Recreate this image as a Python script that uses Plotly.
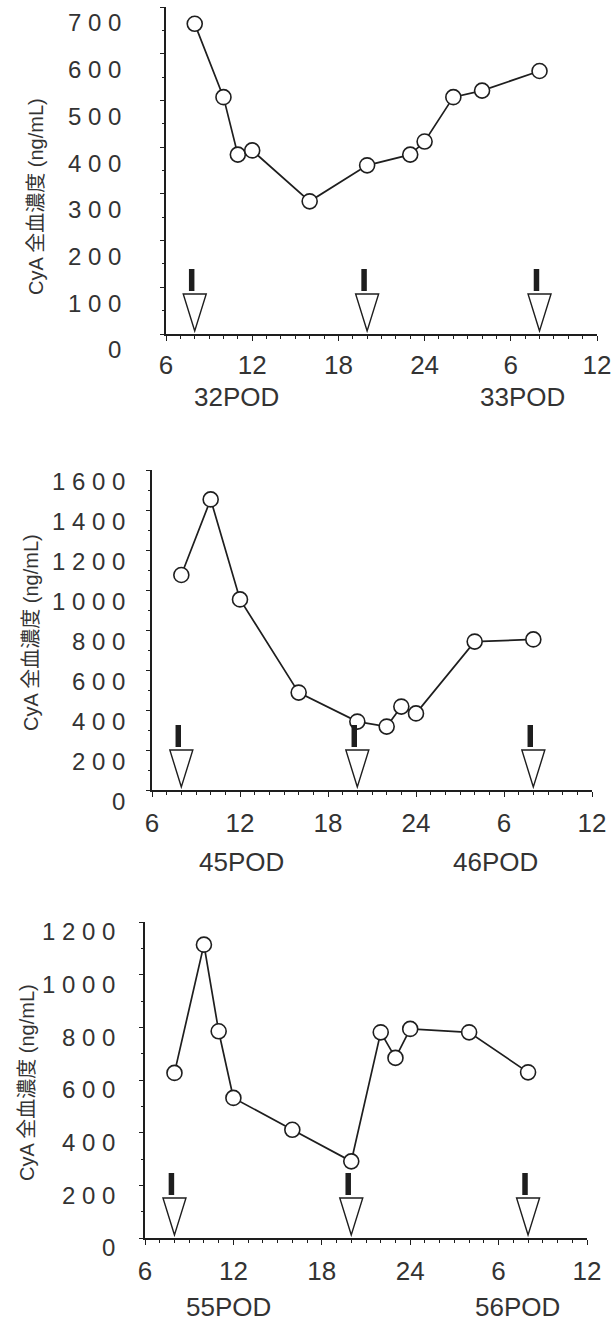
import plotly.graph_objects as go

# ---------------- data ----------------
# hours on a continuous clock (6 = 06:00 day 1, 30 = 06:00 next day, 36 = 12:00 next day)
p1_hours = [8, 10, 11, 12, 16, 20, 23, 24, 26, 28, 32]
p1_conc = [664, 507, 384, 393, 284, 361, 384, 412, 507, 521, 563]

p2_hours = [8, 10, 12, 16, 20, 22, 23, 24, 28, 32]
p2_conc = [1075, 1453, 953, 487, 342, 317, 417, 383, 742, 753]

p3_hours = [8, 10, 11, 12, 16, 20, 22, 23, 24, 28, 32]
p3_conc = [627, 1114, 785, 532, 411, 291, 781, 684, 794, 781, 629]

dose_hours = [8, 20, 32]

x_tick_vals = [6, 12, 18, 24, 30, 36]
x_tick_text = ["6", "12", "18", "24", "6", "12"]

p1_ymax = 700
p1_ytick_vals = [0, 100, 200, 300, 400, 500, 600, 700]
p2_ymax = 1600
p2_ytick_vals = [0, 200, 400, 600, 800, 1000, 1200, 1400, 1600]
p3_ymax = 1200
p3_ytick_vals = [0, 200, 400, 600, 800, 1000, 1200]

pod_labels = [("32POD", 10.9, "33POD", 30.8),
              ("45POD", 12.1, "46POD", 29.4),
              ("55POD", 11.7, "56POD", 31.3)]

y_title = "CyA 全血濃度 (ng/mL)"

# ---------------- layout helpers ----------------
W, H = 611, 1327
FONT = "Liberation Sans, Arial, Noto Sans CJK JP, sans-serif"
INK = "#1e1e1e"
TXT = "#333333"


def spaced(v):
    return " ".join(str(v))


panels = [
    dict(hours=p1_hours, conc=p1_conc, ymax=p1_ymax, yt=p1_ytick_vals,
         xpx=(166, 597), ypx=(7, 334), standoff=34, shift=16, title=(36, 197),
         podshift=-63, xstand=2),
    dict(hours=p2_hours, conc=p2_conc, ymax=p2_ymax, yt=p2_ytick_vals,
         xpx=(152, 592), ypx=(470, 790), standoff=16, shift=12, title=(31, 633),
         podshift=-72, xstand=4),
    dict(hours=p3_hours, conc=p3_conc, ymax=p3_ymax, yt=p3_ytick_vals,
         xpx=(145, 587), ypx=(922, 1238), standoff=19, shift=10, title=(27, 1083),
         podshift=-69, xstand=4),
]

fig = go.Figure()
shapes = []
annotations = []
layout_axes = {}

for i, p in enumerate(panels):
    n = "" if i == 0 else str(i + 1)
    xa, ya = "x" + n, "y" + n
    fig.add_trace(go.Scatter(
        x=p["hours"], y=p["conc"], xaxis=xa, yaxis=ya, mode="lines+markers",
        line=dict(color=INK, width=1.7),
        marker=dict(symbol="circle", size=15, color="white",
                    line=dict(color=INK, width=1.6)),
        cliponaxis=False, showlegend=False, hoverinfo="skip"))

    x0, x1 = p["xpx"]
    yt, yb = p["ypx"]
    layout_axes["xaxis" + n] = dict(
        domain=[x0 / W, x1 / W], range=[6, 36], anchor=ya, automargin=False,
        tickmode="array", tickvals=x_tick_vals, ticktext=x_tick_text,
        ticks="outside", ticklen=5, tickwidth=1.2, tickcolor=INK,
        minor=dict(tickmode="linear", tick0=6, dtick=1, ticks="outside",
                   ticklen=3, tickwidth=1, tickcolor=INK, showgrid=False),
        showline=True, linecolor=INK, linewidth=1.5,
        showgrid=False, zeroline=False, fixedrange=True,
        tickfont=dict(family=FONT, size=26, color=TXT),
        ticklabelstandoff=p["xstand"], ticklabeloverflow="allow")
    layout_axes["yaxis" + n] = dict(
        domain=[1 - yb / H, 1 - yt / H], range=[0, p["ymax"]], anchor=xa,
        automargin=False,
        tickmode="array", tickvals=p["yt"], ticktext=[spaced(v) for v in p["yt"]],
        ticks="outside", ticklen=4, tickwidth=1.2, tickcolor=INK,
        minor=dict(tickmode="linear", tick0=0, dtick=p["yt"][1] / 2,
                   ticks="outside", ticklen=2, tickwidth=1, tickcolor=INK,
                   showgrid=False),
        showline=True, linecolor=INK, linewidth=1.5,
        showgrid=False, zeroline=False, fixedrange=True,
        tickfont=dict(family=FONT, size=24, color=TXT),
        ticklabelstandoff=p["standoff"], ticklabelshift=p["shift"],
        ticklabeloverflow="allow")

    # dosing arrows
    for t in dose_hours:
        shapes.append(dict(
            type="path", xref=xa, yref=ya, xsizemode="pixel", ysizemode="pixel",
            xanchor=t, yanchor=0, path="M 0,3 L -11.5,40 L 11.5,40 Z",
            line=dict(color=INK, width=1.4), fillcolor="white", layer="above"))
        shapes.append(dict(
            type="rect", xref=xa, yref=ya, xsizemode="pixel", ysizemode="pixel",
            xanchor=t, yanchor=0, x0=-5.8, x1=-0.3, y0=43, y1=65,
            line=dict(width=0), fillcolor=INK, layer="above"))

    # POD labels
    lab_a, xa_pos, lab_b, xb_pos = pod_labels[i]
    for lab, xp in ((lab_a, xa_pos), (lab_b, xb_pos)):
        annotations.append(dict(
            text=lab, x=xp, y=0, xref=xa, yref=ya + " domain",
            xanchor="center", yanchor="middle", yshift=p["podshift"],
            showarrow=False, font=dict(family=FONT, size=26, color=TXT)))

    # y axis title
    tx, ty = p["title"]
    annotations.append(dict(
        text=y_title, x=tx / W, y=1 - ty / H, xref="paper", yref="paper",
        xanchor="center", yanchor="middle", textangle=-90, showarrow=False,
        font=dict(family="Liberation Sans, Noto Sans CJK JP, sans-serif",
                  size=20, color=TXT)))

fig.update_layout(
    width=W, height=H, margin=dict(l=0, r=0, t=0, b=0, autoexpand=False),
    paper_bgcolor="white", plot_bgcolor="white",
    shapes=shapes, annotations=annotations, **layout_axes)

fig.write_html(
    "out.html", config={"displayModeBar": False},
    post_script="document.body.style.margin='0';document.body.style.padding='0';"
                "document.documentElement.style.overflow='hidden';")
